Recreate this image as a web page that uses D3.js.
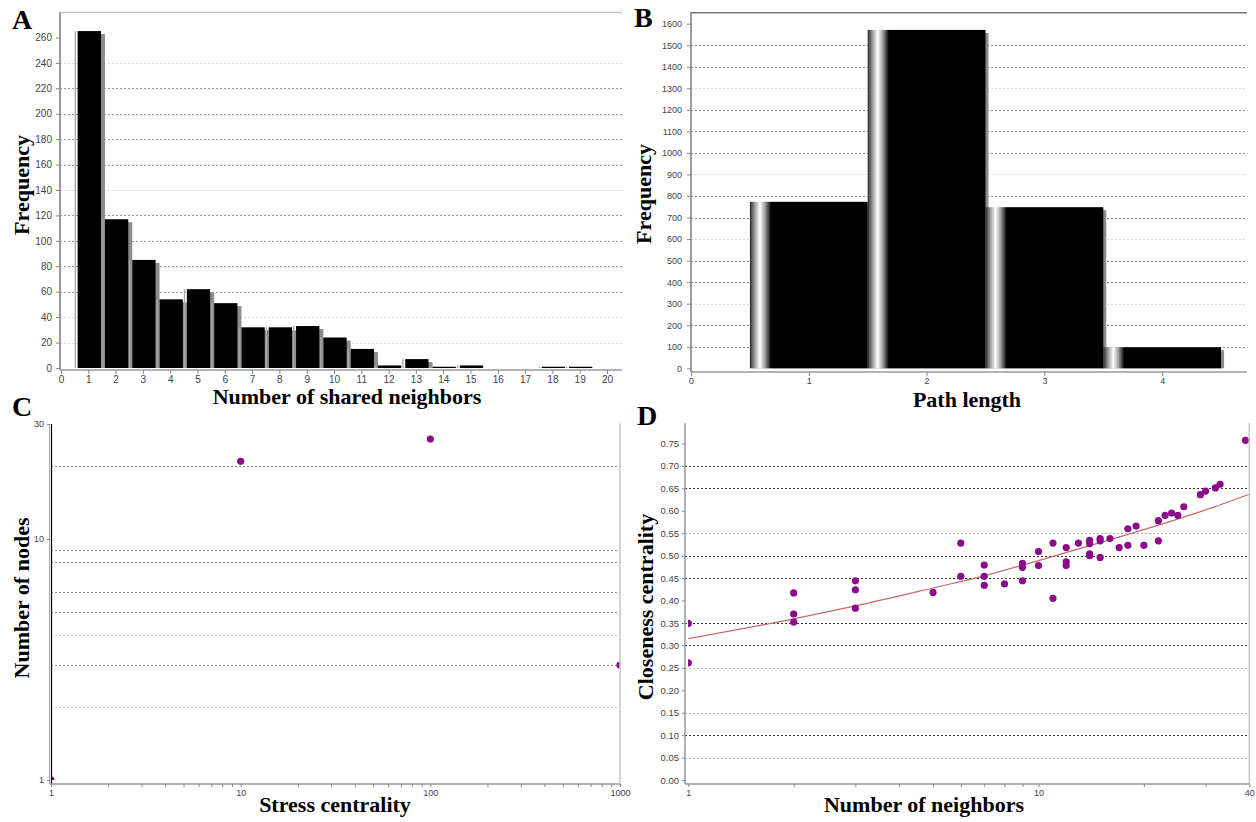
<!DOCTYPE html>
<html>
<head>
<meta charset="utf-8">
<script src="https://cdn.jsdelivr.net/npm/d3@7"></script>
<style>
    body { margin: 0; background: #fff; }
    svg text { font-family: "Liberation Sans", Arial, sans-serif; }
    .title { font-family: "Liberation Serif", "Times New Roman", serif !important; font-weight: bold; }
</style>
</head>
<body>
<div id="chart"></div>
<script>
// A - shared neighbors distribution
const sharedX = [1, 2, 3, 4, 5, 6, 7, 8, 9, 10, 11, 12, 13, 14, 15, 16, 17, 18, 19, 20];
const sharedFreq = [265, 117, 85, 54, 62, 51, 32, 32, 33, 24, 15, 2, 7, 1, 2, 0, 0, 1, 1, 0];
const sharedXTicks = [0, 1, 2, 3, 4, 5, 6, 7, 8, 9, 10, 11, 12, 13, 14, 15, 16, 17, 18, 19, 20];
const sharedYTicks = [0, 20, 40, 60, 80, 100, 120, 140, 160, 180, 200, 220, 240, 260];
const sharedGrid = [60, 80, 100, 120, 160, 180, 200, 220];
const sharedGridFaint = [20, 40, 140, 240];

// B - shortest path length distribution
const pathX = [1, 2, 3, 4];
const pathFreq = [773, 1571, 748, 98];
const pathXTicks = [0, 1, 2, 3, 4];
const pathYTicks = [0, 100, 200, 300, 400, 500, 600, 700, 800, 900, 1000, 1100, 1200, 1300, 1400, 1500, 1600];
const pathGrid = [100, 200, 400, 500, 700, 800, 1000, 1100, 1200, 1400, 1500];
const pathGridFaint = [300, 600, 900, 1300];

// C - stress centrality distribution
const stressX = [1, 10, 100, 1000];
const stressNodes = [1, 21, 26, 3];
const stressXLabels = [1, 10, 100, 1000];
const stressYTicks = [1, 10, 30];
const stressGrid = [3, 5, 6, 8, 9, 20];
const stressGridFaint = [2, 4];

// D - closeness centrality vs number of neighbors
const neighborsX = [1, 1, 2, 2, 2, 3, 3, 3, 5, 6, 6, 7, 7, 7, 8, 9, 9, 9, 10, 10,
    11, 11, 12, 12, 12, 13, 14, 14, 14, 14, 15, 15, 15, 16, 17, 18, 18, 19, 20,
    22, 22, 23, 24, 25, 26, 29, 30, 32, 33, 39];
const closenessY = [0.349, 0.261, 0.417, 0.370, 0.352, 0.444, 0.424, 0.383, 0.418, 0.528, 0.454,
    0.479, 0.454, 0.434, 0.437, 0.483, 0.474, 0.444, 0.509, 0.478,
    0.528, 0.405, 0.518, 0.486, 0.478, 0.528, 0.534, 0.527, 0.504, 0.500,
    0.538, 0.533, 0.496, 0.538, 0.518, 0.560, 0.523, 0.566, 0.523,
    0.578, 0.533, 0.590, 0.595, 0.590, 0.609, 0.636, 0.644, 0.651, 0.659, 0.757];
// fitted power law line
const fitX = [1, 2, 3, 5, 7, 10, 15, 20, 30, 40];
const fitY = [0.315, 0.359, 0.388, 0.428, 0.455, 0.489, 0.529, 0.558, 0.602, 0.637];
const closenessYTicks = [0, 0.05, 0.1, 0.15, 0.2, 0.25, 0.3, 0.35, 0.4, 0.45, 0.5, 0.55, 0.6, 0.65, 0.7, 0.75];
const closenessXLabels = [1, 10, 40];
const closenessGrid = [0.1, 0.3, 0.35, 0.45, 0.5, 0.65, 0.7];
const closenessGridFaint = [0.05, 0.15, 0.25, 0.55];

const svg = d3.select("#chart")
    .append("svg")
    .attr("width", 1256)
    .attr("height", 822);

const axisGray = "#9a9a9a";
const dotColor = "#8a0b8a";

// draws dashed horizontal gridlines
function grid(y, values, x1, x2, color) {
    svg.append("g")
        .selectAll("line")
        .data(values)
        .enter()
        .append("line")
        .attr("x1", x1)
        .attr("x2", x2)
        .attr("y1", d => Math.round(y(d)) + 0.5)
        .attr("y2", d => Math.round(y(d)) + 0.5)
        .style("stroke", color)
        .style("stroke-width", 1)
        .style("stroke-dasharray", "2,2");
}

function line(x1, y1, x2, y2, color, w) {
    svg.append("line")
        .attr("x1", x1).attr("y1", y1)
        .attr("x2", x2).attr("y2", y2)
        .style("stroke", color)
        .style("stroke-width", w || 1);
}

// tick-only axes, the domain lines are drawn by hand
function styleAxis(g, size) {
    g.select(".domain").remove();
    g.selectAll(".tick line").style("stroke", "#888");
    g.selectAll(".tick text")
        .style("fill", "#444")
        .style("font-size", size + "px")
        .style("font-family", "'Liberation Sans', Arial, sans-serif");
}

function title(text, x, y, size, rotate) {
    let t = svg.append("text")
        .attr("class", "title")
        .attr("text-anchor", rotate ? "middle" : (size > 24 ? "start" : "middle"))
        .style("font-size", size + "px")
        .style("fill", "#000")
        .text(text);
    if (rotate) {
        t.attr("transform", "translate(" + x + "," + y + ") rotate(-90)");
    } else {
        t.attr("x", x).attr("y", y);
    }
}

// ---------- Panel A ----------
{
    var x = d3.scaleLinear().domain([0, 20.55]).range([61, 622]);
    var y = d3.scaleLinear().domain([0, 280]).range([368, 12]);

    grid(y, sharedGridFaint, 60, 622, "#d8d8d8");
    grid(y, sharedGrid, 60, 622, "#9a9a9a");

    var bars = sharedX.map((d, i) => ({x: d, v: sharedFreq[i]})).filter(d => d.v > 0);

    // shadows
    svg.append("g").selectAll("rect").data(bars).enter().append("rect")
        .attr("x", d => x(d.x - 0.5) + 6)
        .attr("y", d => y(d.v) + 3)
        .attr("width", d => x(d.x + 0.5) - x(d.x - 0.5) - 3)
        .attr("height", d => Math.max(0, y(0) - y(d.v) - 3))
        .style("fill", "#8c8c8c");
    // light edge
    svg.append("g").selectAll("rect").data(bars).enter().append("rect")
        .attr("x", d => x(d.x - 0.5))
        .attr("y", d => y(d.v))
        .attr("width", 1.3)
        .attr("height", d => y(0) - y(d.v))
        .style("fill", "#a8a8a8");
    // bars
    svg.append("g").selectAll("rect").data(bars).enter().append("rect")
        .attr("x", d => x(d.x - 0.5) + 3)
        .attr("y", d => y(d.v))
        .attr("width", d => x(d.x + 0.5) - x(d.x - 0.5) - 4)
        .attr("height", d => y(0) - y(d.v))
        .style("fill", "#000");

    line(60, 12, 60, 370, axisGray, 2);
    line(60, 12.5, 622, 12.5, "#c4c4c4", 1.5);
    line(60, 370, 622, 370, axisGray, 1.5);

    svg.append("g")
        .attr("transform", "translate(60,0)")
        .call(d3.axisLeft(y).tickValues(sharedYTicks).tickSize(4).tickPadding(4))
        .call(g => styleAxis(g, 10));
    svg.append("g")
        .attr("transform", "translate(0,370)")
        .call(d3.axisBottom(x).tickValues(sharedXTicks).tickSize(4).tickPadding(2))
        .call(g => styleAxis(g, 10));

    title("A", 12, 29, 28);
    title("Frequency", 29, 185, 22, true);
    title("Number of shared neighbors", 347, 404, 22);
}

// ---------- Panel B ----------
{
    var x = d3.scaleLinear().domain([0, 4.72]).range([691, 1247]);
    var y = d3.scaleLinear().domain([0, 1650]).range([368.3, 12.9]);

    var grad = svg.append("defs").append("linearGradient")
        .attr("id", "barGrad")
        .attr("x1", 0).attr("x2", 1).attr("y1", 0).attr("y2", 0);
    [[0, "#2a2a2a"], [0.04, "#9a9a9a"], [0.085, "#ffffff"], [0.13, "#9a9a9a"], [0.18, "#000"], [1, "#000"]]
        .forEach(s => grad.append("stop").attr("offset", s[0]).attr("stop-color", s[1]));

    grid(y, pathGridFaint, 691, 1247, "#d8d8d8");
    grid(y, pathGrid, 691, 1247, "#8a8a8a");

    var bars = pathX.map((d, i) => ({x: d, v: pathFreq[i]}));

    svg.append("g").selectAll("rect").data(bars).enter().append("rect")
        .attr("x", d => x(d.x - 0.5) + 3)
        .attr("y", d => y(d.v) + 3)
        .attr("width", d => x(d.x + 0.5) - x(d.x - 0.5))
        .attr("height", d => y(0) - y(d.v) - 3)
        .style("fill", "#8c8c8c");
    svg.append("g").selectAll("rect").data(bars).enter().append("rect")
        .attr("x", d => x(d.x - 0.5))
        .attr("y", d => y(d.v))
        .attr("width", d => x(d.x + 0.5) - x(d.x - 0.5))
        .attr("height", d => y(0) - y(d.v))
        .style("fill", "url(#barGrad)");

    line(691, 12, 691, 372, axisGray, 2);
    line(691, 12.7, 1247, 12.7, "#777", 1.5);
    line(691, 372, 1247, 372, axisGray, 1.5);

    svg.append("g")
        .attr("transform", "translate(691,0)")
        .call(d3.axisLeft(y).tickValues(pathYTicks).tickSize(4).tickPadding(5).tickFormat(d3.format("d")))
        .call(g => styleAxis(g, 9));
    svg.append("g")
        .attr("transform", "translate(0,372)")
        .call(d3.axisBottom(x).tickValues(pathXTicks).tickSize(4).tickPadding(2).tickFormat(d3.format("d")))
        .call(g => styleAxis(g, 9));

    title("B", 634, 27, 28);
    title("Frequency", 651, 194, 22, true);
    title("Path length", 967, 407, 22);
}

// ---------- Panel C ----------
{
    var x = d3.scaleLog().domain([1, 1000]).range([51, 620]);
    var y = d3.scaleLog().domain([1, 30]).range([780, 424]);

    grid(y, stressGridFaint, 51, 620, "#c8c8c8");
    grid(y, stressGrid, 51, 620, "#8a8a8a");

    svg.append("clipPath").attr("id", "clipC")
        .append("rect").attr("x", 51).attr("y", 424).attr("width", 569).attr("height", 356);

    svg.append("g")
        .attr("clip-path", "url(#clipC)")
        .selectAll("circle")
        .data(stressX.map((d, i) => ({x: d, y: stressNodes[i]})))
        .enter()
        .append("circle")
        .attr("cx", d => x(d.x))
        .attr("cy", d => y(d.y))
        .attr("r", 3.6)
        .style("fill", dotColor);

    line(49.5, 424, 49.5, 784, "#aaa", 1);
    line(51.5, 424, 51.5, 784, "#000", 1.2);
    line(620, 423, 620, 784, "#c8c8c8", 1.5);
    line(50, 784, 620, 784, axisGray, 1.5);

    svg.append("g")
        .attr("transform", "translate(50,0)")
        .call(d3.axisLeft(y).tickValues(stressYTicks).tickSize(3).tickPadding(3).tickFormat(d3.format("d")))
        .call(g => styleAxis(g, 9));
    svg.append("g")
        .attr("transform", "translate(0,784)")
        .call(d3.axisBottom(x).tickValues(x.ticks()).tickSize(3).tickPadding(3)
            .tickFormat(d => stressXLabels.includes(d) ? d : ""))
        .call(g => styleAxis(g, 9));

    title("C", 12, 416, 28);
    title("Number of nodes", 29, 598, 22, true);
    title("Stress centrality", 335, 812, 22);
}

// ---------- Panel D ----------
{
    var x = d3.scaleLog().domain([1, 40]).range([688.3, 1249.3]);
    var y = d3.scaleLinear().domain([0, 0.795]).range([780, 423.3]);

    grid(y, closenessGridFaint, 685, 1249, "#b8b8b8");
    grid(y, closenessGrid, 685, 1249, "#333");

    svg.append("clipPath").attr("id", "clipD")
        .append("rect").attr("x", 688).attr("y", 420).attr("width", 566).attr("height", 362);

    var fit = d3.line()
        .x((d, i) => x(fitX[i]))
        .y(d => y(d))
        .curve(d3.curveMonotoneX);
    svg.append("path")
        .attr("d", fit(fitY))
        .style("fill", "none")
        .style("stroke", "#c46a6a")
        .style("stroke-width", 1.2);

    svg.append("g")
        .attr("clip-path", "url(#clipD)")
        .selectAll("circle")
        .data(neighborsX.map((d, i) => ({x: d, y: closenessY[i]})))
        .enter()
        .append("circle")
        .attr("cx", d => x(d.x))
        .attr("cy", d => y(d.y))
        .attr("r", 3.6)
        .style("fill", dotColor);

    line(685, 423, 685, 784, axisGray, 1.5);
    line(1249.3, 423, 1249.3, 784, "#c8c8c8", 1.5);
    line(685, 784, 1249.3, 784, axisGray, 1.5);

    svg.append("g")
        .attr("transform", "translate(685,0)")
        .call(d3.axisLeft(y).tickValues(closenessYTicks).tickSize(3).tickPadding(3).tickFormat(d3.format(".2f")))
        .call(g => styleAxis(g, 9.5));
    svg.append("g")
        .attr("transform", "translate(0,784)")
        .call(d3.axisBottom(x).tickValues(x.ticks()).tickSize(3).tickPadding(3)
            .tickFormat(d => closenessXLabels.includes(d) ? d : ""))
        .call(g => styleAxis(g, 9));

    title("D", 637, 425, 28);
    title("Closeness centrality", 653, 607, 22, true);
    title("Number of neighbors", 924, 812, 22);
}
</script>
</body>
</html>
